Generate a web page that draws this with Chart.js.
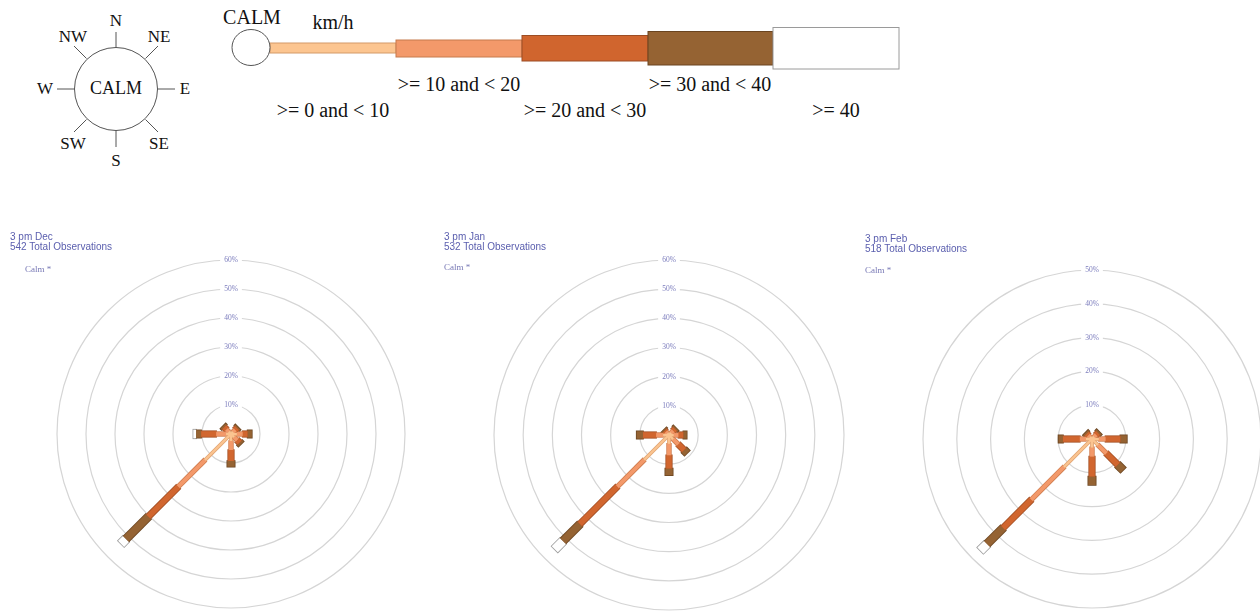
<!DOCTYPE html>
<html>
<head>
<meta charset="utf-8">
<script src="https://cdn.jsdelivr.net/npm/chart.js@4.4.1/dist/chart.umd.min.js"></script>
<style>
  html, body { margin: 0; padding: 0; background: #ffffff; }
  body { width: 1260px; height: 613px; overflow: hidden; position: relative; }
  #key { position: absolute; left: 0; top: 0; }
  #key text { font-family: "Liberation Serif", "Times New Roman", serif; fill: #111; }
  .rose { position: absolute; }
  .title { position: absolute; z-index: 2; white-space: nowrap;
           font-family: "Liberation Sans", Arial, sans-serif; font-size: 10px; line-height: 9.5px; color: #5a5eae; }
  .calm { position: absolute; z-index: 2; white-space: nowrap;
          font-family: "Liberation Serif", serif; font-size: 9px; color: #7778b5; }
</style>
</head>
<body>

<svg id="key" width="1260" height="180" xmlns="http://www.w3.org/2000/svg">
  <!-- direction compass -->
  <g stroke="#555" stroke-width="1" fill="none">
    <circle cx="116" cy="89" r="41.5"/>
    <line x1="116" y1="32" x2="116" y2="47.5"/>
    <line x1="116" y1="130.5" x2="116" y2="147"/>
    <line x1="57" y1="89" x2="74.5" y2="89"/>
    <line x1="157.5" y1="89" x2="175" y2="89"/>
    <line x1="74" y1="46" x2="86.5" y2="58.5"/>
    <line x1="158" y1="46" x2="145.5" y2="58.5"/>
    <line x1="74" y1="132" x2="86.5" y2="119.5"/>
    <line x1="158" y1="132" x2="145.5" y2="119.5"/>
  </g>
  <g font-size="17" text-anchor="middle" dominant-baseline="central">
    <text x="116" y="20">N</text>
    <text x="73" y="36">NW</text>
    <text x="159" y="36">NE</text>
    <text x="45" y="88">W</text>
    <text x="185" y="88">E</text>
    <text x="73" y="143">SW</text>
    <text x="159" y="143">SE</text>
    <text x="116" y="160">S</text>
    <text x="116" y="88" font-size="18">CALM</text>
  </g>

  <!-- speed key -->
  <text x="252" y="17" font-size="20" text-anchor="middle" dominant-baseline="central">CALM</text>
  <text x="333" y="22" font-size="20" text-anchor="middle" dominant-baseline="central">km/h</text>
  <rect x="270" y="43" width="126" height="10" fill="#fcc590" stroke="#d49a68" stroke-width="1"/>
  <rect x="396" y="40" width="126" height="17" fill="#f3996a" stroke="#c67a4c" stroke-width="1"/>
  <rect x="522" y="35.5" width="126" height="25.5" fill="#d0652e" stroke="#9c4d24" stroke-width="1"/>
  <rect x="648" y="31.5" width="125" height="33.5" fill="#956333" stroke="#6a4420" stroke-width="1"/>
  <rect x="773" y="27.5" width="126" height="41.5" fill="#ffffff" stroke="#9a9a9a" stroke-width="1"/>
  <ellipse cx="251" cy="47.5" rx="19" ry="18" fill="#ffffff" stroke="#555" stroke-width="1"/>
  <g font-size="20" text-anchor="middle" dominant-baseline="central">
    <text x="333" y="110">&gt;= 0 and &lt; 10</text>
    <text x="459" y="84">&gt;= 10 and &lt; 20</text>
    <text x="585" y="110">&gt;= 20 and &lt; 30</text>
    <text x="710" y="84">&gt;= 30 and &lt; 40</text>
    <text x="836" y="110">&gt;= 40</text>
  </g>
</svg>

<div class="title" style="left:10px; top:232px;">3 pm Dec<br>542 Total Observations</div>
<div class="calm" style="left:25px; top:264px;">Calm *</div>
<div class="title" style="left:444px; top:232px;">3 pm Jan<br>532 Total Observations</div>
<div class="calm" style="left:444px; top:262px;">Calm *</div>
<div class="title" style="left:865px; top:234px;">3 pm Feb<br>518 Total Observations</div>
<div class="calm" style="left:865px; top:265px;">Calm *</div>

<canvas id="roseDec" class="rose" width="380" height="380"></canvas>
<canvas id="roseJan" class="rose" width="380" height="380"></canvas>
<canvas id="roseFeb" class="rose" width="380" height="380"></canvas>

<script>
// Compass directions, clockwise from north
const directions = ['N', 'NE', 'E', 'SE', 'S', 'SW', 'W', 'NW'];
const speedBands = ['>= 0 and < 10', '>= 10 and < 20', '>= 20 and < 30', '>= 30 and < 40', '>= 40'];

// Percentage of observations per direction, one array per speed band
const decBand0 = [0, 1.0, 2.0, 1.5, 2.4, 12.7, 1.7, 1.1];
const decBand1 = [0, 1.0, 2.0, 1.5, 3.1, 13.0, 3.4, 1.1];
const decBand2 = [0, 0.9, 1.7, 1.2, 3.8, 14.6, 5.2, 1.1];
const decBand3 = [0, 0.5, 1.5, 0.7, 2.0, 10.9, 1.7, 0.6];
const decBand4 = [0, 0,   0,   0,   0,   2.4,  1.0, 0];

const janBand0 = [0, 1.0, 1.6, 2.0, 3.0, 12.0, 2.0, 0.8];
const janBand1 = [0, 1.0, 1.6, 2.5, 3.9, 13.0, 2.4, 0.7];
const janBand2 = [0, 0.9, 1.7, 2.8, 4.6, 18.2, 4.5, 0.6];
const janBand3 = [0, 0.5, 1.2, 1.5, 2.3, 8.2,  2.2, 0.4];
const janBand4 = [0, 0,   0,   0,   0,   4.0,  0,   0];

const febBand0 = [0, 0.9, 2.0, 2.5, 2.5, 11.7, 1.8, 0.8];
const febBand1 = [0, 0.8, 2.0, 3.5, 2.7, 13.7, 1.8, 0.7];
const febBand2 = [0, 0.8, 4.4, 4.8, 5.9, 11.8, 5.0, 0.7];
const febBand3 = [0, 0.5, 1.9, 2.2, 2.5, 6.7,  1.3, 0.5];
const febBand4 = [0, 0,   0,   0,   0,   2.8,  0,   0];

// Percentage rings
const ringTicks60 = [10, 20, 30, 40, 50, 60];
const ringTicks50 = [10, 20, 30, 40, 50];

// Band styling
const bandFill  = ['#fbc490', '#f3996a', '#d1662f', '#956333', '#ffffff'];
const bandEdge  = ['#e0a473', '#cf7c4e', '#a24f24', '#6a4420', '#9a9a9a'];
const bandWidth = [2.2, 3.8, 5.6, 7.4, 8.6];

// Draws the percentage rings with their labels beneath the bars
const ringPlugin = {
  id: 'rings',
  beforeDatasetsDraw(chart, args, opts) {
    const { ctx, scales: { x, y } } = chart;
    const cx = x.getPixelForValue(0);
    const cy = y.getPixelForValue(0);
    ctx.save();
    opts.ticks.forEach(t => {
      const r = x.getPixelForValue(t) - cx;
      ctx.beginPath();
      ctx.arc(cx, cy, r, 0, Math.PI * 2);
      ctx.strokeStyle = '#d5d5d5';
      ctx.lineWidth = 1.2;
      ctx.stroke();
      const ly = y.getPixelForValue(t);
      const label = t + '%';
      ctx.font = '7.5px "Liberation Serif", serif';
      const w = ctx.measureText(label).width;
      ctx.fillStyle = '#ffffff';
      ctx.fillRect(cx - w / 2 - 4, ly - 4, w + 8, 8);
      ctx.fillStyle = '#7c7dbd';
      ctx.textAlign = 'center';
      ctx.textBaseline = 'middle';
      ctx.fillText(label, cx, ly);
    });
    ctx.restore();
  }
};

function roseDatasets(bands) {
  const sets = [];
  directions.forEach((dir, i) => {
    const a = i * Math.PI / 4;
    const pt = r => ({ x: r * Math.sin(a), y: r * Math.cos(a) });
    let r0 = 0;
    bands.forEach((vals, b) => {
      const v = vals[i];
      if (!v) return;
      const r1 = r0 + v;
      const common = { showLine: true, pointRadius: 0, pointHoverRadius: 0, borderCapStyle: 'butt', fill: false, tension: 0 };
      // outline underneath
      sets.push(Object.assign({ label: dir + ' ' + speedBands[b] + ' edge', data: [pt(r0 > 0 ? r0 - 0.25 : 0), pt(r1 + 0.25)],
        borderColor: bandEdge[b], borderWidth: bandWidth[b] + 1.6, order: 2 }, common));
      // band fill on top
      sets.push(Object.assign({ label: dir + ' ' + speedBands[b], data: [pt(r0), pt(r1)],
        borderColor: bandFill[b], borderWidth: bandWidth[b], order: 1 }, common));
      r0 = r1;
    });
  });
  return sets;
}

function buildRose(id, bands, ticks, center, pxPerPct) {
  const canvas = document.getElementById(id);
  const half = canvas.width / 2;
  canvas.style.left = (center[0] - half) + 'px';
  canvas.style.top = (center[1] - half) + 'px';
  const R = half / pxPerPct;
  const axis = { type: 'linear', min: -R, max: R, display: false };
  return new Chart(canvas, {
    type: 'scatter',
    data: { datasets: roseDatasets(bands) },
    options: {
      responsive: false,
      animation: false,
      events: [],
      layout: { padding: 0 },
      scales: { x: axis, y: Object.assign({}, axis) },
      plugins: { legend: { display: false }, tooltip: { enabled: false }, rings: { ticks } }
    },
    plugins: [ringPlugin]
  });
}

buildRose('roseDec', [decBand0, decBand1, decBand2, decBand3, decBand4], ringTicks60, [231, 434], 174 / 60);
buildRose('roseJan', [janBand0, janBand1, janBand2, janBand3, janBand4], ringTicks60, [669, 435], 175 / 60);
buildRose('roseFeb', [febBand0, febBand1, febBand2, febBand3, febBand4], ringTicks50, [1092, 439], 169 / 50);
</script>
</body>
</html>
